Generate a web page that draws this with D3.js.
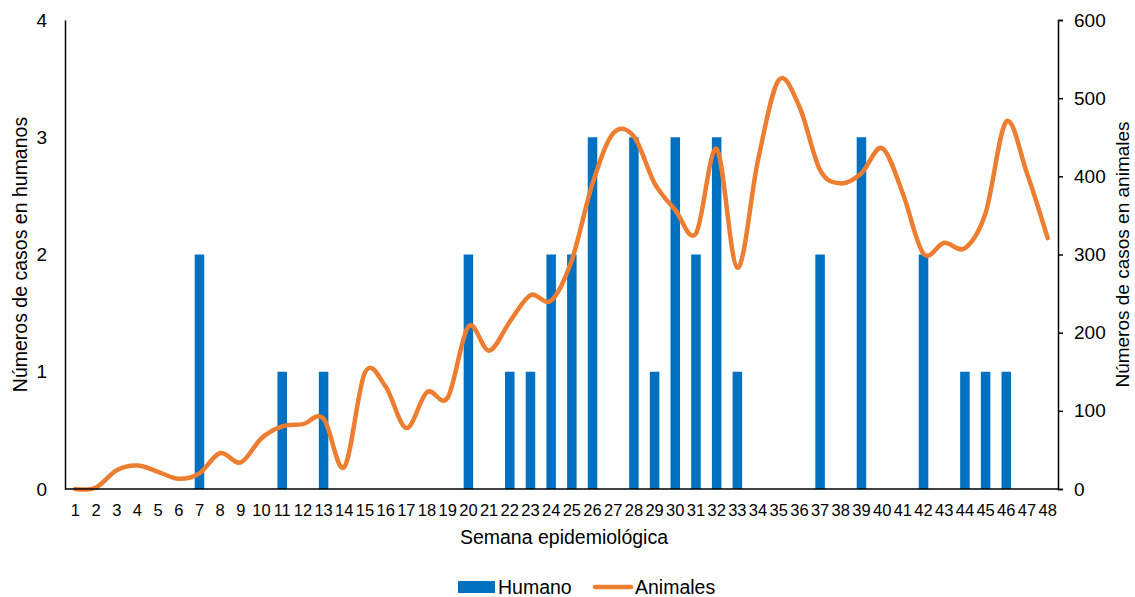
<!DOCTYPE html>
<html>
<head>
<meta charset="utf-8">
<script src="https://cdn.jsdelivr.net/npm/d3@7"></script>
<style>
  html, body { margin: 0; padding: 0; background: #fff; }
  svg { display: block; font-family: "Liberation Sans", Arial, sans-serif; }
</style>
</head>
<body>
<svg id="chart" width="1135" height="597"></svg>
<script>
// Epidemiological weeks 1..48
const weeks = d3.range(1, 49);

// Human cases per week (bars, left axis)
const humanCases = [0,0,0,0,0,0,2,0,0,0,1,0,1,0,0,0,0,0,0,2,0,1,1,2,2,3,0,3,1,3,2,3,1,0,0,0,2,0,3,0,0,2,0,1,1,1,0,0];

// Animal cases per week (smoothed line, right axis)
const animalCases = [0,2,24,30,22,13,20,46,34,65,80,83,90,28,149,131,78,124,117,208,177,214,248,241,293,391,455,451,391,357,327,435,283,421,523,489,408,391,404,436,378,301,315,308,353,470,404,321];

const leftTicks = [0,1,2,3,4];
const rightTicks = [0,100,200,300,400,500,600];

const svg = d3.select("#chart");
const plotLeft = 65, plotRight = 1058, plotTop = 20, plotBottom = 489;
const font = "Liberation Sans, Arial, sans-serif";

const x = d3.scaleBand().domain(weeks).range([plotLeft, plotRight]).paddingInner(0.54).paddingOuter(0.27);
const yL = d3.scaleLinear().domain([0, 4]).range([plotBottom, plotTop]);
const yR = d3.scaleLinear().domain([0, 600]).range([plotBottom, plotTop]);

const blue = "#0070C0", orange = "#ED7D31";

// Bars
svg.append("g").selectAll("rect")
  .data(weeks.filter((w, i) => humanCases[i] > 0))
  .join("rect")
  .attr("x", w => x(w))
  .attr("width", x.bandwidth())
  .attr("y", w => yL(humanCases[w - 1]))
  .attr("height", w => plotBottom - yL(humanCases[w - 1]))
  .attr("fill", blue);

// Smoothed line
const cx = w => x(w) + x.bandwidth() / 2;
const line = d3.line()
  .x((d, i) => cx(weeks[i]))
  .y(d => yR(d))
  .curve(d3.curveCardinal.tension(0));
svg.append("path")
  .datum(animalCases)
  .attr("d", line)
  .attr("fill", "none")
  .attr("stroke", orange)
  .attr("stroke-width", 4.5)
  .attr("stroke-linecap", "round")
  .attr("stroke-linejoin", "round");

// Left axis
const gL = svg.append("g").attr("transform", `translate(${plotLeft},0)`)
  .call(d3.axisLeft(yL).tickValues(leftTicks).tickSize(0).tickPadding(18).tickFormat(d3.format("d")));
gL.select(".domain").attr("stroke", "#000").attr("stroke-width", 1.5);
gL.selectAll("text").attr("font-size", 19).attr("fill", "#000").attr("font-family", font);

// Right axis
const gR = svg.append("g").attr("transform", `translate(${plotRight},0)`)
  .call(d3.axisRight(yR).tickValues(rightTicks).tickSizeInner(5).tickSizeOuter(5).tickPadding(11).tickFormat(d3.format("d")));
gR.select(".domain").attr("stroke", "#000").attr("stroke-width", 1.5);
gR.selectAll(".tick line").attr("stroke", "#000").attr("stroke-width", 1.5);
gR.selectAll("text").attr("font-size", 19).attr("fill", "#000").attr("font-family", font);

// Bottom axis
const gB = svg.append("g").attr("transform", `translate(0,${plotBottom})`)
  .call(d3.axisBottom(x).tickSize(0).tickPadding(15));
gB.select(".domain").attr("stroke", "#000").attr("stroke-width", 1.5).attr("d", `M${plotLeft},0H${plotRight}`);
gB.selectAll("text").attr("font-size", 16.5).attr("fill", "#000").attr("font-family", font);

// Axis titles
svg.append("text")
  .attr("transform", `translate(27,${(plotTop + plotBottom) / 2}) rotate(-90)`)
  .attr("text-anchor", "middle").attr("font-size", 19.5).attr("fill", "#000")
  .text("Números de casos en humanos");
svg.append("text")
  .attr("transform", `translate(1129,${(plotTop + plotBottom) / 2}) rotate(-90)`)
  .attr("text-anchor", "middle").attr("font-size", 19).attr("fill", "#000")
  .text("Números de casos en animales");
svg.append("text")
  .attr("x", 564).attr("y", 544)
  .attr("text-anchor", "middle").attr("font-size", 19.5).attr("fill", "#000")
  .text("Semana epidemiológica");

// Legend
const lg = svg.append("g");
lg.append("rect").attr("x", 458).attr("y", 581).attr("width", 37).attr("height", 12).attr("fill", blue);
lg.append("text").attr("x", 498).attr("y", 594).attr("font-size", 19.5).attr("fill", "#000").text("Humano");
lg.append("line").attr("x1", 595).attr("x2", 631).attr("y1", 587).attr("y2", 587)
  .attr("stroke", orange).attr("stroke-width", 4.5).attr("stroke-linecap", "round");
lg.append("text").attr("x", 635).attr("y", 594).attr("font-size", 19.5).attr("fill", "#000").text("Animales");
</script>
</body>
</html>
